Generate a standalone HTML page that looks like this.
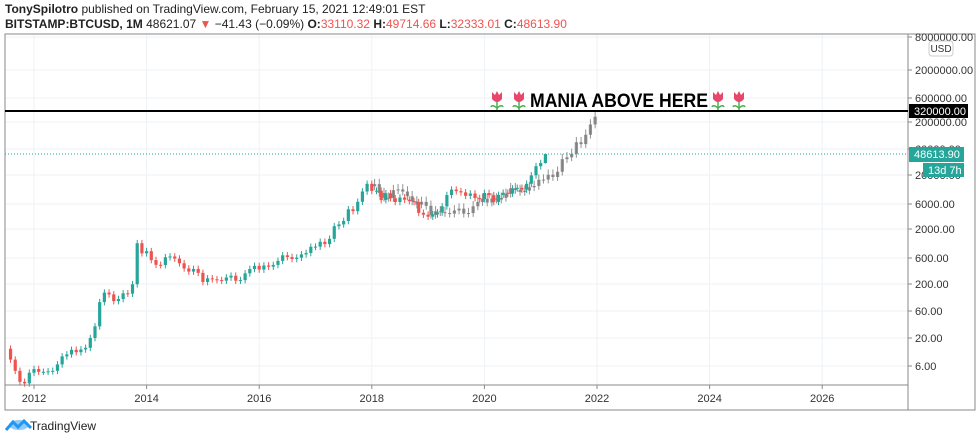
<!DOCTYPE html>
<html><head><meta charset="utf-8"><style>
body{margin:0;background:#fff;width:980px;height:441px;overflow:hidden;font-family:"Liberation Sans",sans-serif}
svg{position:absolute;left:0;top:0}
</style></head><body>
<svg id="s" width="980" height="441" xmlns="http://www.w3.org/2000/svg" font-family="Liberation Sans, sans-serif">
<text x="5" y="13" font-size="12" fill="#222"><tspan font-weight="bold">TonySpilotro</tspan> published on TradingView.com, February 15, 2021 12:49:01 EST</text>
<text x="5" y="28" font-size="12" fill="#222"><tspan font-weight="bold">BITSTAMP:BTCUSD, 1M</tspan> 48621.07 <tspan fill="#ef5350">▼</tspan> −41.43 (−0.09%) <tspan font-weight="bold">O:</tspan><tspan fill="#ef5350">33110.32</tspan> <tspan font-weight="bold">H:</tspan><tspan fill="#ef5350">49714.66</tspan> <tspan font-weight="bold">L:</tspan><tspan fill="#ef5350">32333.01</tspan> <tspan font-weight="bold">C:</tspan><tspan fill="#ef5350">48613.90</tspan></text>
<g id="grid"></g>
<g id="c"></g>
<rect x="5" y="34" width="970" height="376" fill="none" stroke="#888" stroke-width="1"/>
<line x1="908" y1="34" x2="908" y2="410" stroke="#888"/>
<line x1="5" y1="385" x2="908" y2="385" stroke="#888"/>
<g id="ax" font-size="11" fill="#333"></g>
<rect x="929" y="41" width="24" height="15" rx="3" fill="#fff" stroke="#ccc"/>
<text x="941" y="52" font-size="10" fill="#333" text-anchor="middle">USD</text>
<line x1="5" y1="154" x2="908" y2="154" stroke="#26a69a" stroke-dasharray="1,2"/>
<line x1="5" y1="111" x2="908" y2="111" stroke="#000" stroke-width="2"/>
<rect x="909" y="104" width="59" height="14" fill="#000"/>
<text x="914" y="115" font-size="11" fill="#fff">320000.00</text>
<rect x="909" y="147" width="55" height="15" fill="#26a69a"/>
<text x="914" y="158" font-size="11" fill="#fff">48613.90</text>
<rect x="923" y="163" width="41" height="14" fill="#26a69a"/>
<text x="928" y="174" font-size="11" fill="#fff">13d 7h</text>
<g id="tul"></g>
<text x="530" y="107" font-size="19" font-weight="bold" fill="#000" textLength="178" lengthAdjust="spacingAndGlyphs">MANIA ABOVE HERE</text>
<g transform="translate(6,418)"><path d="M0 12 L7 4 L12 9 L18 3 L25 10" stroke="#2196f3" stroke-width="3" fill="none"/><ellipse cx="13" cy="7" rx="10" ry="5" fill="#2196f3" opacity="0.5"/></g>
<text x="30" y="430" font-size="12" fill="#222">TradingView</text>
</svg>
<script>
const NS="http://www.w3.org/2000/svg";
function el(p,t,a){const e=document.createElementNS(NS,t);for(const k in a)e.setAttribute(k,a[k]);p.appendChild(e);return e;}
const X=t=>34+(t-2012)*56.3, Y=v=>367-54.5*Math.log10(v/6);
const g=document.getElementById('grid'),ax=document.getElementById('ax');
const lv=[[8000000,37],[2000000,70],[600000,98],[200000,122],[60000,149],[20000,175],[6000,204],[2000,229],[600,258],[200,284],[60,311],[20,338],[6,366]];
lv.forEach(([v,y])=>{el(g,'line',{x1:5,x2:908,y1:y,y2:y,stroke:'#eef2f6'});el(ax,'line',{x1:908,x2:912,y1:y,y2:y,stroke:'#888'});const t=el(ax,'text',{x:915,y:y+4});t.textContent=v.toFixed(2);});
for(let yr=2012;yr<=2026;yr+=2){const x=X(yr);el(g,'line',{x1:x,x2:x,y1:34,y2:385,stroke:'#eef2f6'});el(ax,'line',{x1:x,x2:x,y1:385,y2:389,stroke:'#888'});const t=el(ax,'text',{x:x,y:402,'text-anchor':'middle'});t.textContent=yr;}
const closes=[8.2,5.1,3.2,3,4.7,5.5,4.9,4.9,5.0,5.1,6.7,9.4,10.2,12.4,11.2,12.6,13.5,20.4,33.4,93,139,129,97,106,135,133,198,1120,732,800,550,450,445,620,640,585,480,386,338,378,320,218,254,244,236,230,263,284,230,236,314,377,430,368,437,416,448,531,673,624,575,609,700,742,963,970,1190,1080,1350,2300,2480,2870,4700,4340,6450,9950,13800,10200,10300,6930,9240,7500,6390,7730,7030,6630,6370,4040,3740,3440,3800,4100,5320,8570,10800,10090,9600,8300,9150,7550,7200,9350,8540,6420,8630,9450,9140,11350,11650,10780,13800,19700,29000,33100,48614];
const c=document.getElementById('c');
function candle(t,o,cl,h,l,col,op){const x=X(t);el(c,'line',{x1:x,x2:x,y1:Y(h),y2:Y(l),stroke:col,'stroke-width':1,opacity:op});const y1=Y(Math.max(o,cl)),y2=Y(Math.min(o,cl));el(c,'rect',{x:x-1.6,y:y1,width:3.2,height:Math.max(1,y2-y1),fill:col,opacity:op});}
const gsrc=closes.slice(29,77);const F=17;let pg=closes[28]*F;
gsrc.forEach((v,i)=>{const cl=v*F;candle(2018.05+i/12,pg,cl,Math.max(pg,cl)*1.25,Math.min(pg,cl)*0.85,'#777',0.8);pg=cl;});
let prev=13;
closes.forEach((cl,i)=>{const t=2011+7/12+i/12;const o=prev;const col=cl>=o?'#26a69a':'#ef5350';const last=i==closes.length-1;candle(t,o,cl,last?49714:Math.max(o,cl)*1.15,last?32333:Math.min(o,cl)*0.87,col,1);prev=cl;});
function tulip(p,x,y){el(p,'path',{d:`M${x} ${y+4} L${x} ${y+12}`,stroke:'#4caf50','stroke-width':1.5});el(p,'path',{d:`M${x} ${y+10} Q${x-5} ${y+6} ${x-6} ${y+9} M${x} ${y+10} Q${x+5} ${y+6} ${x+6} ${y+9}`,stroke:'#4caf50','stroke-width':1.5,fill:'none'});el(p,'path',{d:`M${x-5} ${y-6} L${x-2} ${y-3} L${x} ${y-7} L${x+2} ${y-3} L${x+5} ${y-6} L${x+5} ${y+1} Q${x} ${y+7} ${x-5} ${y+1}Z`,fill:'#e8466b'});}
const tu=document.getElementById('tul');[497,519,718,739].forEach(x=>tulip(tu,x,98));
</script>
</body></html>
